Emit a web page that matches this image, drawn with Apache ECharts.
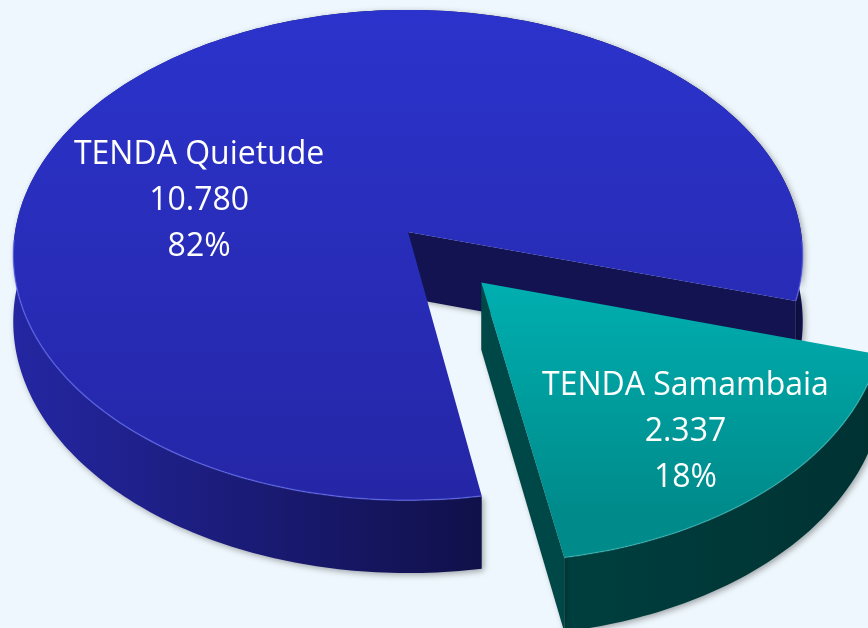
<!DOCTYPE html>
<html>
<head>
<meta charset="utf-8">
<script src="https://cdn.jsdelivr.net/npm/echarts@6/dist/echarts.min.js"></script>
<style>
  html, body { margin: 0; padding: 0; background: #eef7fd; }
  #main { width: 868px; height: 628px; }
</style>
</head>
<body>
<div id="main"></div>
<script>
var names = ['TENDA Quietude', 'TENDA Samambaia'];
var values = [10780, 2337];

// look of each slice
var topColors = [['#2b33cc', '#2526a6'], ['#00afb0', '#008a8a']];
var wallColors = [['#2426a2', '#10104a'], ['#003f3f', '#003232']];
var cutColors = ['#121350', '#004747'];
var rimColors = ['rgba(110,120,255,0.55)', 'rgba(90,220,220,0.35)'];
var explode = [0, 0.274];
var labelSpot = [[0.553, -34.7], [0.731, 1.6]];   // radius fraction, angle shift from mid

// tilted disc, in pixels
var CX = 408, CY = 232, RX = 393, RY = 243, K = 0.094, DEPTH = 66;
var START = 80.2; // degrees, clockwise from 3 o'clock

var total = 0;
for (var i = 0; i < values.length; i++) total += values[i];

var angles = [];
var a = START;
for (var i = 0; i < values.length; i++) {
    var span = values[i] / total * 360;
    angles.push([a, a + span]);
    a += span;
}

function rad(d) { return d * Math.PI / 180; }

// disc coords (u, v) plus height h (0 top, 1 bottom) -> screen
function proj(u, v, h) {
    var w = 1 / (1 - K * v);
    return [CX + RX * u * w, CY + RY * v * w + h * DEPTH * w];
}

function fmt(n) {
    return String(n).replace(/\B(?=(\d{3})+(?!\d))/g, '.');
}

function renderItem(params, api) {
    var idx = params.dataIndex;
    var val = api.value(0);
    var a0 = angles[idx][0], a1 = angles[idx][1];
    var mid = (a0 + a1) / 2;
    var ox = explode[idx] * Math.cos(rad(mid));
    var oy = explode[idx] * Math.sin(rad(mid));

    function pt(t, r, h) {
        return proj(ox + r * Math.cos(rad(t)), oy + r * Math.sin(rad(t)), h);
    }

    var steps = Math.max(8, Math.ceil(a1 - a0));
    var topArc = [], botArc = [], rims = [], cur = null;
    for (var s = 0; s <= steps; s++) {
        var t = a0 + (a1 - a0) * s / steps;
        topArc.push(pt(t, 1, 0));
        botArc.push(pt(t, 1, 1));
        if (Math.sin(rad(t)) > 0.02) {
            if (!cur) { cur = []; rims.push(cur); }
            cur.push(pt(t, 1, 0));
        } else {
            cur = null;
        }
    }

    var vtx = pt(0, 0, 0);
    var low = pt(mid, 1, 0);
    var children = [];

    // outer wall
    children.push({
        type: 'polygon',
        shape: { points: topArc.concat(botArc.slice().reverse()) },
        style: {
            fill: {
                type: 'linear', global: true,
                x: idx === 0 ? 15 : 560, y: 0, x2: idx === 0 ? 480 : 868, y2: 0,
                colorStops: [
                    { offset: 0, color: wallColors[idx][0] },
                    { offset: 1, color: wallColors[idx][1] }
                ]
            },
            shadowColor: 'rgba(0,0,0,0.35)', shadowBlur: 6,
            shadowOffsetX: 2, shadowOffsetY: 2
        }
    });

    // cut faces that look towards the viewer
    var cuts = [];
    if (Math.cos(rad(a0)) < 0) cuts.push(a0);
    if (Math.cos(rad(a1)) > 0) cuts.push(a1);
    cuts.forEach(function (t) {
        children.push({
            type: 'polygon',
            shape: { points: [pt(t, 0, 0), pt(t, 1, 0), pt(t, 1, 1), pt(t, 0, 1)] },
            style: {
                fill: cutColors[idx],
                shadowColor: 'rgba(0,0,0,0.3)', shadowBlur: 5,
                shadowOffsetX: 2, shadowOffsetY: 2
            }
        });
    });

    // top face
    children.push({
        type: 'polygon',
        shape: { points: [vtx].concat(topArc) },
        style: {
            fill: {
                type: 'linear', global: true,
                x: 0, y: idx === 0 ? 10 : vtx[1], x2: 0, y2: idx === 0 ? 500 : low[1] + 30,
                colorStops: [
                    { offset: 0, color: topColors[idx][0] },
                    { offset: 1, color: topColors[idx][1] }
                ]
            }
        }
    });

    rims.forEach(function (seg) {
        if (seg.length > 1) {
            children.push({
                type: 'polyline',
                shape: { points: seg },
                style: { stroke: rimColors[idx], lineWidth: 1.5, fill: null }
            });
        }
    });

    // label
    var lt = mid + labelSpot[idx][1];
    var lp = pt(lt, labelSpot[idx][0], 0);
    children.push({
        type: 'text',
        x: lp[0], y: lp[1],
        style: {
            text: names[idx] + '\n' + fmt(val) + '\n' + Math.round(val / total * 100) + '%',
            fill: '#ffffff',
            font: '32px "Open Sans"',
            lineHeight: 46,
            align: 'center',
            verticalAlign: 'middle'
        }
    });

    return { type: 'group', children: children };
}

var dom = document.getElementById('main');
var myChart = echarts.init(dom, null, { renderer: 'canvas' });

var option = {
    backgroundColor: '#eef7fd',
    animation: false,
    series: [
        {
            type: 'custom',
            coordinateSystem: 'none',
            renderItem: renderItem,
            data: values.map(function (v, i) { return { name: names[i], value: [v] }; })
        }
    ]
};

myChart.setOption(option);
</script>
</body>
</html>
